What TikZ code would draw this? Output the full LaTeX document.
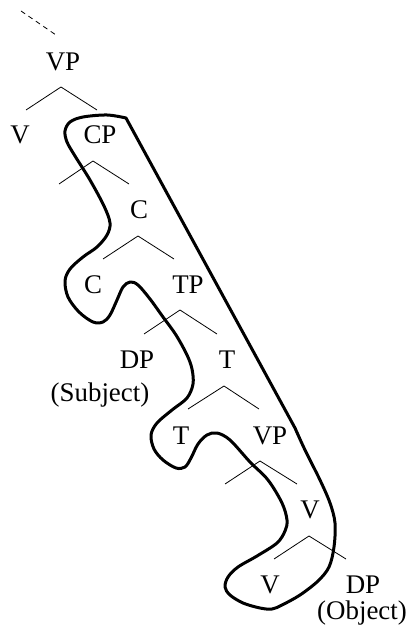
\documentclass[tikz,border=0pt]{standalone}
\usepackage{fontspec}
\setmainfont{Liberation Serif}
\usepackage{tikz}

\begin{document}
\begin{tikzpicture}[x=1bp, y=-1bp,
    lab/.style={font=\fontsize{27}{31}\selectfont, inner sep=0pt},
    branch/.style={line width=0.8bp},
    bubble/.style={line width=3bp, line join=round}]
    % Frame
    \useasboundingbox (0,0) rectangle (411,633);

    % Dashed line from above
    \coordinate (up) at (21,11);
    \coordinate (down) at (56,35);
    \draw[branch, dash pattern=on 5bp off 4bp] (up) -- (down);

    % Labels
    \node[lab] (vp0) at (63,62) {VP};
    \node[lab] (v1) at (20,135) {V};
    \node[lab] (cp1) at (100,135) {CP};
    \node[lab] (c2) at (139,210) {C};
    \node[lab] (c3) at (93,285) {C};
    \node[lab] (tp3) at (188,285) {TP};
    \node[lab] (dp4) at (137,360) {DP};
    \node[lab] (subj) at (100,395) {(Subject)};
    \node[lab] (t4) at (227,360) {T};
    \node[lab] (t5) at (181,436) {T};
    \node[lab] (vp5) at (270,436) {VP};
    \node[lab] (v6) at (310,510) {V};
    \node[lab] (v7) at (270,585) {V};
    \node[lab] (dp7) at (363,585) {DP};
    \node[lab] (obj) at (362,613) {(Object)};

    % Branches
    \coordinate (vp0-a) at (61,87); \coordinate (vp0-l) at (26,110); \coordinate (vp0-r) at (97,110);
    \draw[branch] (vp0-l) -- (vp0-a) -- (vp0-r);
    \coordinate (cp1-a) at (93,161); \coordinate (cp1-l) at (59,184); \coordinate (cp1-r) at (129,184);
    \draw[branch] (cp1-l) -- (cp1-a) -- (cp1-r);
    \coordinate (c2-a) at (138,236); \coordinate (c2-l) at (103,259); \coordinate (c2-r) at (174,259);
    \draw[branch] (c2-l) -- (c2-a) -- (c2-r);
    \coordinate (tp3-a) at (180,310); \coordinate (tp3-l) at (144,334); \coordinate (tp3-r) at (217,334);
    \draw[branch] (tp3-l) -- (tp3-a) -- (tp3-r);
    \coordinate (t4-a) at (224,386); \coordinate (t4-l) at (188,409); \coordinate (t4-r) at (259,409);
    \draw[branch] (t4-l) -- (t4-a) -- (t4-r);
    \coordinate (vp5-a) at (260,461); \coordinate (vp5-l) at (225,484); \coordinate (vp5-r) at (297,484);
    \draw[branch] (vp5-l) -- (vp5-a) -- (vp5-r);
    \coordinate (v6-a) at (309,536); \coordinate (v6-l) at (274,559); \coordinate (v6-r) at (346,559);
    \draw[branch] (v6-l) -- (v6-a) -- (v6-r);

    % Outline round the moved part
    \draw[bubble] plot[smooth, tension=0.55] coordinates {
        (126,118) (107,115) (83,117) (70,122) (65,131) (67,142) (75,156)
        (90,180) (104,206) (110,223) (107,235) (97,247) (83,257) (70,269)
        (65,281) (68,297) (79,312) (93,322) (103,322) (110,315) (117,300)
        (123,287) (130,282) (138,285) (150,299) (163,317) (176,335) (187,355)
        (192,369) (193,384) (187,398) (172,410) (157,423) (151,435) (154,449)
        (163,460) (176,468) (185,467) (191,458) (198,444) (207,435) (217,433)
        (230,440) (250,462) (268,480) (282,503) (287,520) (285,531) (277,543)
        (257,556) (238,567) (228,577) (225,587) (230,595) (243,603) (260,608)
        (272,609) (282,605) (300,595) (318,581) (329,567) (334,547) (335,523)
        (330,503) (320,480) (305,450) (295,428)} -- cycle;
\end{tikzpicture}
\end{document}
